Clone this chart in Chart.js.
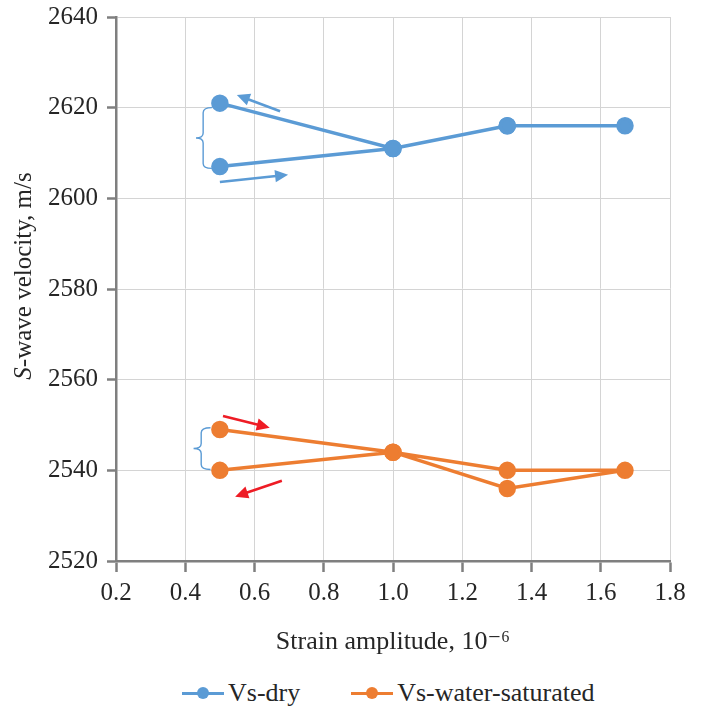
<!DOCTYPE html>
<html>
<head>
<meta charset="utf-8">
<script src="https://cdn.jsdelivr.net/npm/chart.js@4.4.1/dist/chart.umd.min.js"></script>
<style>
html, body { margin: 0; padding: 0; background: #fff; }
#wrap { width: 706px; height: 708px; }
#plot { position: relative; width: 706px; height: 660px; }
#legend {
    height: 48px;
    display: flex;
    align-items: center;
    padding-left: 182px;
    font-family: "Liberation Serif", "DejaVu Serif", serif;
    font-size: 26px;
    color: #262626;
    box-sizing: border-box;
    padding-top: 18px;
}
.item { display: flex; align-items: center; margin-right: 51px; }
.swatch { position: relative; width: 42px; height: 14px; margin-right: 4px; }
.swatch::before {
    content: ''; position: absolute; left: 0; right: 0; top: 5.5px; height: 3px; background: var(--c);
}
.swatch::after {
    content: ''; position: absolute; left: 15px; top: 1px; width: 12px; height: 12px; border-radius: 50%; background: var(--c);
}
</style>
</head>
<body>
<div id="wrap">
  <div id="plot"><canvas id="chart"></canvas></div>
  <div id="legend"></div>
</div>
<script>
// Hysteresis loops of S-wave velocity vs strain amplitude (loading then unloading)
const dryStrain = [0.5, 1.0, 1.33, 1.67, 1.33, 1.0, 0.5];
const dryVs = [2607, 2611, 2616, 2616, 2616, 2611, 2621];
const wetStrain = [0.5, 1.0, 1.33, 1.67, 1.33, 1.0, 0.5];
const wetVs = [2549, 2544, 2536, 2540, 2540, 2544, 2540];
const seriesNames = ['Vs-dry', 'Vs-water-saturated'];
const xMin = 0.2, xMax = 1.8, xStep = 0.2;
const yMin = 2520, yMax = 2640, yStep = 20;

// direction arrows and braces, in data units [strain, velocity]
const arrowTails = [[0.674, 2619.2], [0.500, 2603.6], [0.509, 2552.0], [0.679, 2537.7]];
const arrowTips = [[0.549, 2622.8], [0.697, 2605.2], [0.644, 2549.4], [0.544, 2534.2]];
const arrowColors = ['#5b9bd5', '#5b9bd5', '#ee1c25', '#ee1c25'];
const braceTop = [2620.0, 2549.4];
const braceBottom = [2606.6, 2540.2];
const braceTipX = [0.431, 0.424];
const braceEndX = [0.477, 0.473];

const BLUE = '#5b9bd5';
const ORANGE = '#ed7d31';
const seriesColors = [BLUE, ORANGE];
const FONT = '"Liberation Serif", "DejaVu Serif", "Times New Roman", serif';
const TEXT = '#262626';

function toPoints(xs, ys) {
    return xs.map((x, i) => ({ x: x, y: ys[i] }));
}

function drawArrow(ctx, x0, y0, x1, y1, color) {
    const ang = Math.atan2(y1 - y0, x1 - x0);
    const len = 13, half = 6.2;
    const bx = x1 - len * Math.cos(ang), by = y1 - len * Math.sin(ang);
    ctx.strokeStyle = color;
    ctx.fillStyle = color;
    ctx.lineWidth = 2.6;
    ctx.beginPath();
    ctx.moveTo(x0, y0);
    ctx.lineTo(bx + 1 * Math.cos(ang), by + 1 * Math.sin(ang));
    ctx.stroke();
    ctx.beginPath();
    ctx.moveTo(x1, y1);
    ctx.lineTo(bx + half * Math.sin(ang), by - half * Math.cos(ang));
    ctx.lineTo(bx - half * Math.sin(ang), by + half * Math.cos(ang));
    ctx.closePath();
    ctx.fill();
}

function drawBrace(ctx, xTip, xEnd, yTop, yBot) {
    const xm = xTip + 0.45 * (xEnd - xTip);
    const yc = (yTop + yBot) / 2;
    const r = 5;
    ctx.strokeStyle = BLUE;
    ctx.lineWidth = 1.4;
    ctx.beginPath();
    ctx.moveTo(xEnd, yTop);
    ctx.quadraticCurveTo(xm, yTop, xm, yTop + r);
    ctx.lineTo(xm, yc - r);
    ctx.quadraticCurveTo(xm, yc, xTip, yc);
    ctx.quadraticCurveTo(xm, yc, xm, yc + r);
    ctx.lineTo(xm, yBot - r);
    ctx.quadraticCurveTo(xm, yBot, xEnd, yBot);
    ctx.stroke();
}

const annotate = {
    id: 'annotate',
    beforeDatasetsDraw(chart) {
        const { ctx, scales: { x, y } } = chart;
        ctx.save();
        braceTop.forEach((yt, i) => {
            drawBrace(ctx, x.getPixelForValue(braceTipX[i]), x.getPixelForValue(braceEndX[i]),
                y.getPixelForValue(yt), y.getPixelForValue(braceBottom[i]));
        });
        ctx.restore();
    },
    afterDatasetsDraw(chart) {
        const { ctx, scales: { x, y } } = chart;
        ctx.save();
        arrowTails.forEach((t, i) => {
            const h = arrowTips[i];
            drawArrow(ctx, x.getPixelForValue(t[0]), y.getPixelForValue(t[1]),
                x.getPixelForValue(h[0]), y.getPixelForValue(h[1]), arrowColors[i]);
        });
        ctx.restore();
    },
    afterDraw(chart) {
        // y axis title with italic "S"
        const { ctx } = chart;
        const a = 'S', b = '-wave velocity, m/s';
        ctx.save();
        ctx.translate(24, 276);
        ctx.rotate(-Math.PI / 2);
        ctx.fillStyle = TEXT;
        ctx.textBaseline = 'middle';
        ctx.font = 'italic 25px ' + FONT;
        const wa = ctx.measureText(a).width;
        ctx.font = '25px ' + FONT;
        const wb = ctx.measureText(b).width;
        const start = -(wa + wb) / 2;
        ctx.font = 'italic 25px ' + FONT;
        ctx.fillText(a, start, 0);
        ctx.font = '25px ' + FONT;
        ctx.fillText(b, start + wa, 0);
        ctx.restore();
    }
};

new Chart(document.getElementById('chart'), {
    type: 'line',
    data: {
        datasets: [{
            label: seriesNames[0],
            data: toPoints(dryStrain, dryVs),
            borderColor: BLUE,
            backgroundColor: BLUE,
            borderWidth: 3.5,
            pointRadius: 7,
            pointHoverRadius: 7
        }, {
            label: seriesNames[1],
            data: toPoints(wetStrain, wetVs),
            borderColor: ORANGE,
            backgroundColor: ORANGE,
            borderWidth: 3.5,
            pointRadius: 7,
            pointHoverRadius: 7
        }]
    },
    options: {
        responsive: true,
        maintainAspectRatio: false,
        animation: false,
        layout: { padding: { left: 0, right: 36, top: 17, bottom: 0 } },
        scales: {
            x: {
                type: 'linear',
                min: xMin,
                max: xMax,
                border: { color: '#7f7f7f', width: 2.5 },
                grid: { color: '#d4d4d4', lineWidth: 1, tickLength: 11, tickColor: '#7f7f7f', tickWidth: 2.5 },
                ticks: {
                    stepSize: xStep,
                    padding: 6,
                    color: TEXT,
                    font: { family: FONT, size: 25 },
                    callback: v => Number(v).toFixed(1)
                },
                title: {
                    display: true,
                    text: 'Strain amplitude, 10\u207B\u2076',
                    color: TEXT,
                    font: { family: FONT, size: 26 },
                    padding: { top: 10, bottom: 2 }
                },
                afterFit: s => { s.height = 99; s.paddingLeft = 0; s.paddingRight = 0; }
            },
            y: {
                min: yMin,
                max: yMax,
                border: { color: '#7f7f7f', width: 2.5 },
                grid: { color: '#d4d4d4', lineWidth: 1, tickLength: 9, tickColor: '#7f7f7f', tickWidth: 2.5 },
                ticks: {
                    stepSize: yStep,
                    padding: 9,
                    color: TEXT,
                    font: { family: FONT, size: 25 },
                    callback: v => String(v)
                },
                afterFit: s => { s.width = 116; s.paddingTop = 0; s.paddingBottom = 0; }
            }
        },
        plugins: {
            legend: { display: false },
            tooltip: { enabled: false }
        }
    },
    plugins: [annotate]
});

// HTML legend below the canvas
const legendEl = document.getElementById('legend');
seriesNames.forEach((name, i) => {
    const item = document.createElement('div');
    item.className = 'item';
    const sw = document.createElement('span');
    sw.className = 'swatch';
    sw.style.setProperty('--c', seriesColors[i]);
    const label = document.createElement('span');
    label.textContent = name;
    item.appendChild(sw);
    item.appendChild(label);
    legendEl.appendChild(item);
});
</script>
</body>
</html>
